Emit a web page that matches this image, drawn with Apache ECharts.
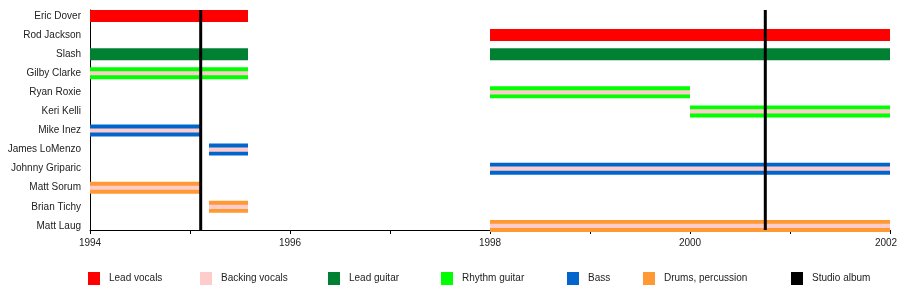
<!DOCTYPE html>
<html>
<head>
<meta charset="utf-8">
<title>Slash's Snakepit – members timeline</title>
<script src="https://cdn.jsdelivr.net/npm/echarts@6/dist/echarts.min.js"></script>
<style>
  html, body { margin: 0; padding: 0; background: #fff; }
  #chart { width: 900px; height: 290px; }
</style>
</head>
<body>
<div id="chart"></div>
<script>
// Band members, top to bottom
const members = [
  'Eric Dover', 'Rod Jackson', 'Slash', 'Gilby Clarke', 'Ryan Roxie', 'Keri Kelli',
  'Mike Inez', 'James LoMenzo', 'Johnny Griparic', 'Matt Sorum', 'Brian Tichy', 'Matt Laug'
];

// Tenures per role: [start year, end year, member]
const leadVocals = [
  [1994, 1995.58, 'Eric Dover'],
  [1998, 2002, 'Rod Jackson']
];
const leadGuitar = [
  [1994, 1995.58, 'Slash'],
  [1998, 2002, 'Slash']
];
const rhythmGuitar = [
  [1994, 1995.58, 'Gilby Clarke'],
  [1998, 2000, 'Ryan Roxie'],
  [2000, 2002, 'Keri Kelli']
];
const bass = [
  [1994, 1995.12, 'Mike Inez'],
  [1995.19, 1995.58, 'James LoMenzo'],
  [1998, 2002, 'Johnny Griparic']
];
const drums = [
  [1994, 1995.12, 'Matt Sorum'],
  [1995.19, 1995.58, 'Brian Tichy'],
  [1998, 2002, 'Matt Laug']
];
const backingVocals = [
  [1994, 1995.58, 'Gilby Clarke'],
  [1998, 2000, 'Ryan Roxie'],
  [2000, 2002, 'Keri Kelli'],
  [1994, 1995.12, 'Mike Inez'],
  [1995.19, 1995.58, 'James LoMenzo'],
  [1998, 2002, 'Johnny Griparic'],
  [1994, 1995.12, 'Matt Sorum'],
  [1995.19, 1995.58, 'Brian Tichy'],
  [1998, 2002, 'Matt Laug']
];

// Studio album release dates
const studioAlbums = [1995.107, 2000.753];

// Year axis
const yearMin = 1994;
const yearMax = 2002;
const yearLabels = ['1994', '1996', '1998', '2000', '2002'];

// Row axis extent (row 0 at top)
const rowMin = -0.314;
const rowMax = 11.215;

const FONT = '"Liberation Sans", Arial, Helvetica, sans-serif';

const colors = {
  'Lead vocals': '#ff0000',
  'Backing vocals': '#ffcccc',
  'Lead guitar': '#008033',
  'Rhythm guitar': '#00ff00',
  'Bass': '#0066cc',
  'Drums, percussion': '#ff9933',
  'Studio album': '#000000'
};

function toRows(list) {
  return list.map(d => [d[0], d[1], members.indexOf(d[2])]);
}

// Horizontal tenure bar; thickness is a fraction of the row pitch
function barRenderer(fraction) {
  return function (params, api) {
    const a = api.coord([api.value(0), api.value(2)]);
    const b = api.coord([api.value(1), api.value(2)]);
    const pitch = api.size([0, 1])[1];
    const h = pitch * fraction;
    return {
      type: 'rect',
      shape: { x: a[0], y: a[1] - h / 2, width: b[0] - a[0], height: h },
      style: { fill: api.visual('color') }
    };
  };
}

function roleSeries(name, list, fraction, z) {
  return {
    name: name,
    type: 'custom',
    renderItem: barRenderer(fraction),
    itemStyle: { color: colors[name] },
    encode: { x: [0, 1], y: 2 },
    data: toRows(list),
    z: z,
    silent: true
  };
}

const legendNames = ['Lead vocals', 'Backing vocals', 'Lead guitar', 'Rhythm guitar',
  'Bass', 'Drums, percussion', 'Studio album'];
const legendLeft = [88, 200, 328, 441, 567, 643, 791];

const chart = echarts.init(document.getElementById('chart'), null, { renderer: 'canvas' });

chart.setOption({
  animation: false,
  backgroundColor: '#ffffff',
  textStyle: { fontFamily: FONT },
  grid: { left: 90, right: 10, top: 10, bottom: 60, containLabel: false, outerBoundsMode: 'none' },
  legend: legendNames.map((n, i) => ({
    data: [n],
    left: legendLeft[i],
    top: 272,
    icon: 'rect',
    itemWidth: 12,
    itemHeight: 13,
    selectedMode: false,
    padding: 0,
    textStyle: { fontFamily: FONT, fontSize: 10, color: '#222', padding: [0, 0, 0, 4] }
  })),
  xAxis: {
    type: 'value',
    position: 'bottom',
    min: yearMin,
    max: yearMax,
    interval: 1,
    splitLine: { show: false },
    axisLine: { show: true, onZero: false, lineStyle: { color: '#000', width: 1 } },
    axisTick: { show: true, length: 4, lineStyle: { color: '#000' } },
    axisLabel: {
      margin: 8,
      fontSize: 10,
      color: '#222',
      fontFamily: FONT,
      formatter: v => {
        const s = String(v);
        if (yearLabels.indexOf(s) < 0) return '';
        // keep the last year inside the canvas edge
        return v === yearMax ? '{edge|' + s + '}' : s;
      },
      rich: {
        edge: { fontSize: 10, color: '#222', fontFamily: FONT, padding: [0, 8, 0, 0] }
      }
    }
  },
  yAxis: {
    type: 'value',
    inverse: true,
    min: rowMin,
    max: rowMax,
    splitLine: { show: false },
    axisLine: { show: true, onZero: false, lineStyle: { color: '#000', width: 1 } },
    axisTick: { show: false },
    axisLabel: {
      customValues: members.map((m, i) => i),
      margin: 9,
      fontSize: 10,
      color: '#222',
      fontFamily: FONT,
      formatter: v => members[v] || ''
    }
  },
  series: [
    roleSeries('Lead vocals', leadVocals, 0.63, 2),
    roleSeries('Lead guitar', leadGuitar, 0.63, 2),
    roleSeries('Rhythm guitar', rhythmGuitar, 0.63, 2),
    roleSeries('Bass', bass, 0.63, 2),
    roleSeries('Drums, percussion', drums, 0.63, 2),
    roleSeries('Backing vocals', backingVocals, 0.22, 3),
    {
      name: 'Studio album',
      type: 'custom',
      itemStyle: { color: colors['Studio album'] },
      encode: { x: 0 },
      data: studioAlbums.map(d => [d]),
      z: 4,
      silent: true,
      renderItem: function (params, api) {
        const top = api.coord([api.value(0), rowMin]);
        const bottom = api.coord([api.value(0), rowMax]);
        return {
          type: 'line',
          shape: { x1: top[0], y1: top[1], x2: bottom[0], y2: bottom[1] },
          style: { stroke: api.visual('color'), lineWidth: 3 }
        };
      }
    }
  ]
});
</script>
</body>
</html>
